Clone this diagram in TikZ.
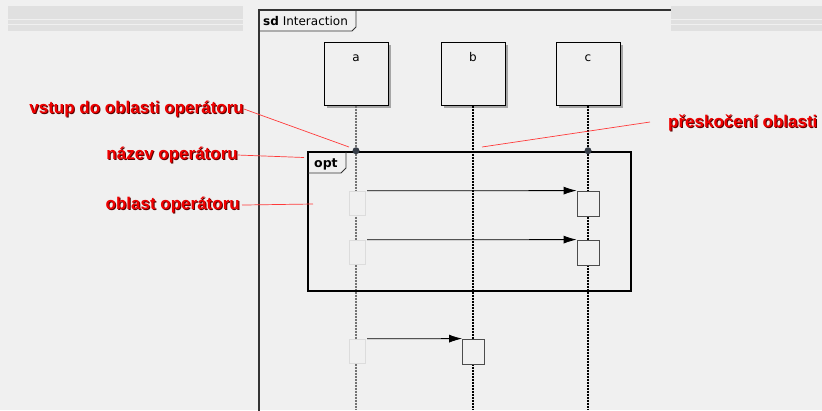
\documentclass[tikz,border=0pt]{standalone}
\usepackage{fontspec}
\setmainfont{DejaVu Sans}
\newfontfamily\notefont{Liberation Sans}
\usetikzlibrary{arrows.meta,shadows,positioning}
\definecolor{bgcol}{HTML}{F0F0F0}
\definecolor{barcol}{HTML}{E0E0E0}
\definecolor{ghostcol}{HTML}{DCDCDC}
\definecolor{notered}{HTML}{F00000}
\definecolor{noteshade}{HTML}{5A0000}
\definecolor{linkred}{HTML}{FF3A3A}
\definecolor{gatecol}{HTML}{353C46}
\newcommand{\redlabel}[1]{\makebox[0pt][l]{\hspace{1pt}\raisebox{-1pt}{\color{noteshade}#1}}{\color{notered}#1}}

\begin{document}
\begin{tikzpicture}[x=1pt, y=-1pt, every node/.style={font=\fontsize{12}{14}\selectfont},
  lifebox/.style={draw, fill=bgcol, line width=1pt, minimum width=64pt, minimum height=63pt,
    inner sep=0pt, drop shadow={shadow xshift=3pt, shadow yshift=-3pt, opacity=1, fill=black!35}},
  lifeline/.style={line width=1.3pt, dash pattern=on 2pt off 1pt},
  ghost/.style={draw=ghostcol, fill=bgcol, minimum width=16pt, minimum height=24pt, inner sep=0pt},
  actbox/.style={draw=black!70, fill=bgcol, line width=.8pt, minimum width=22pt, minimum height=25pt, inner sep=0pt},
  msg/.style={line width=.8pt, -{Latex[length=13pt,width=8pt]}},
  gate/.style={circle, fill=gatecol, inner sep=0pt, minimum size=7pt},
  note/.style={font=\notefont\bfseries\fontsize{17}{20}\selectfont, inner sep=0pt},
  link/.style={linkred, line width=.7pt}]
  \useasboundingbox (0,0) rectangle (822,410);
  \fill[bgcol] (0,0) rectangle (822,410);
  % sd frame
  \draw[black!80, line width=1.2pt] (259,420) -- (259,10) -- (900,10);
  \draw[black!80, line width=.8pt] (259,31) -- (352,31) -- (356,27) -- (356,10);
  \node[anchor=base west, inner sep=0pt] (sd) at (263,25) {\textbf{sd} Interaction};
  % header bars
  \foreach \xa/\xb in {8/243, 671/822} {
    \fill[barcol] (\xa,6) rectangle (\xb,31);
    \draw[white!94!black, line width=1pt] (\xa,19.5) -- (\xb,19.5);
    \draw[white!94!black, line width=.6pt] (\xa,24) -- (\xb,24);
  }
  % lifelines
  \coordinate (bottom) at (0,410);
  \foreach \n/\x/\col in {a/356/black!55, b/473/black, c/588/black} {
    \node[lifebox] (\n) at (\x,73.5) {};
    \node[anchor=base, inner sep=0pt] (\n name) at ([yshift=-20pt]\n.north) {\n};
    \draw[lifeline, \col] (\n.south) -- (\n.south |- bottom);
  }
  % opt fragment
  \node[draw, line width=2.5pt, minimum width=323pt, minimum height=139pt, inner sep=0pt] (opt) at (469.5,221.5) {};
  \draw[black!80, line width=.8pt] (308,173) -- (341,173) -- (346,168) -- (346,152);
  \node[anchor=base west, inner sep=0pt, font=\bfseries\fontsize{12.5}{14}\selectfont] (opt name) at (314,167) {opt};
  \node[gate] (gate a) at (a.south |- opt.north) {};
  \node[gate] (gate c) at (c.south |- opt.north) {};
  % messages
  \node[ghost] (g1) at (357,203) {};
  \node[ghost] (g2) at (357,252) {};
  \node[ghost] (g3) at (357,351) {};
  \node[actbox] (t1) at (588,203.5) {};
  \node[actbox] (t2) at (588,252.5) {};
  \node[actbox] (t3) at (473.5,351.5) {};
  \draw[msg] ([xshift=2pt]g1.north east) -- (t1.north west);
  \draw[msg] ([xshift=2pt]g2.north east) -- (t2.north west);
  \draw[msg] ([xshift=2pt]g3.north east) -- (t3.north west);
  % notes
  \node[note, anchor=base east] (enter) at (244,113) {\redlabel{vstup do oblasti operátoru}};
  \node[note, anchor=base east] (opname) at (238,159) {\redlabel{název operátoru}};
  \node[note, anchor=base east] (region) at (240,209) {\redlabel{oblast operátoru}};
  \node[note, anchor=base west] (skip) at (668,127) {\redlabel{přeskočení oblasti}};
  \coordinate (enter end) at (349,147);
  \coordinate (opname end) at (304,157.5);
  \coordinate (region end) at (313,204);
  \coordinate (skip start) at (650,122);
  \coordinate (skip end) at (482,147);
  \draw[link] (enter.east) -- (enter end);
  \draw[link] (opname.east) -- (opname end);
  \draw[link] ([xshift=2pt]region.east) -- (region end);
  \draw[link] (skip start) -- (skip end);
\end{tikzpicture}
\end{document}
